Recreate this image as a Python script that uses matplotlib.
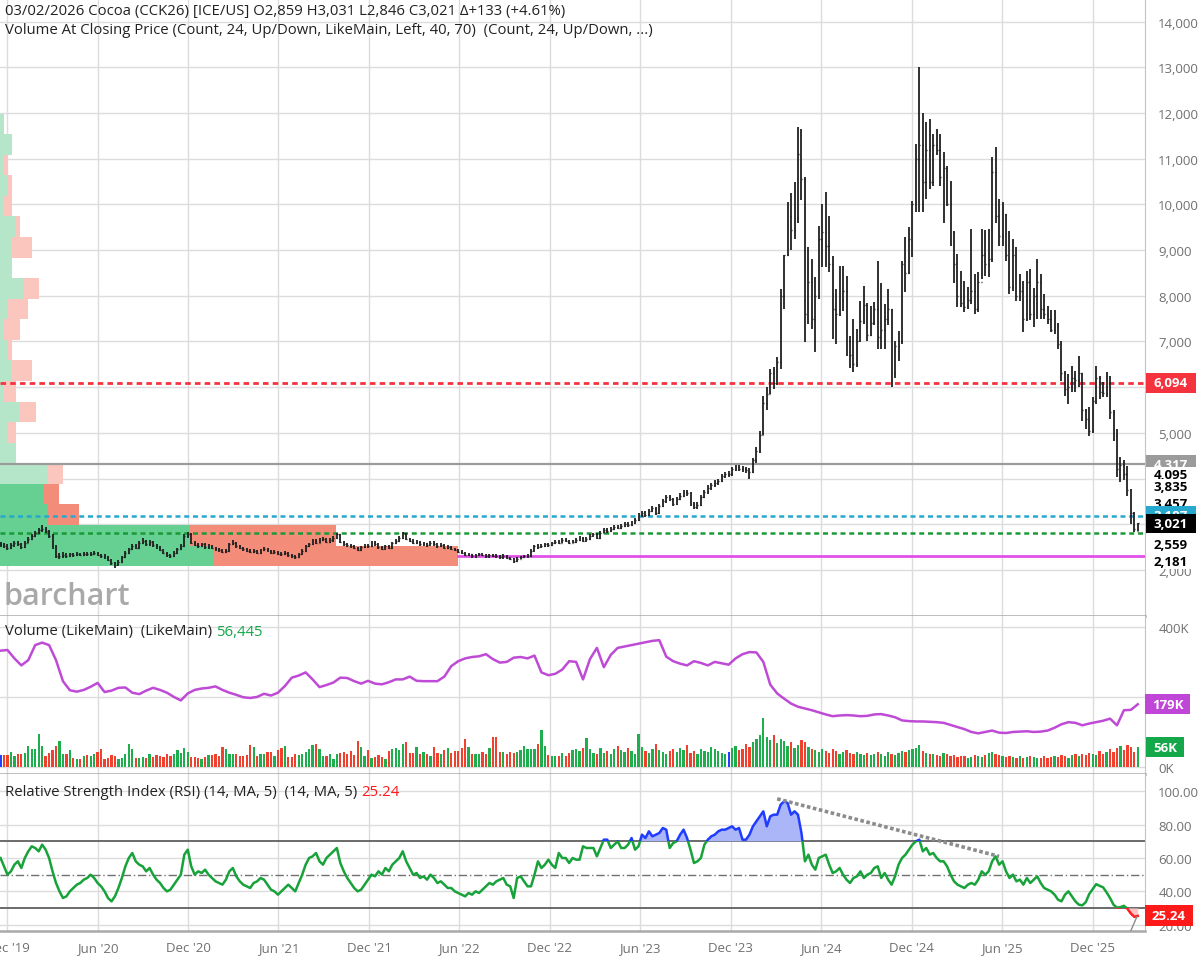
import numpy as np
import pandas as pd
import matplotlib
matplotlib.use("Agg")
import matplotlib.pyplot as plt
import matplotlib.dates as mdates
from matplotlib.patches import Rectangle
from matplotlib.transforms import blended_transform_factory, IdentityTransform

plt.rcParams['font.family'] = ['Open Sans', 'DejaVu Sans']

# ---------------- data (weekly, 2019-11-18 .. 2026-03-02) ----------------
START = '2019-11-18'
CLOSE = [
 2560, 2520, 2480, 2540, 2600, 2560, 2500, 2600, 2680, 2750,
 2800, 2870, 2900, 2850, 2750, 2500, 2300, 2310, 2330, 2310,
 2340, 2320, 2350, 2330, 2360, 2340, 2350, 2380, 2330, 2300,
 2290, 2220, 2150, 2100, 2180, 2280, 2380, 2450, 2520, 2480,
 2600, 2640, 2560, 2620, 2540, 2500, 2440, 2380, 2320, 2300,
 2380, 2450, 2520, 2750, 2780, 2600, 2550, 2520, 2560, 2500,
 2530, 2480, 2450, 2430, 2400, 2420, 2560, 2600, 2520, 2480,
 2450, 2420, 2400, 2420, 2380, 2440, 2460, 2420, 2380, 2400,
 2360, 2340, 2380, 2320, 2300, 2280, 2340, 2420, 2520, 2560,
 2640, 2600, 2660, 2680, 2620, 2650, 2700, 2780, 2620, 2560,
 2540, 2520, 2480, 2440, 2500, 2540, 2520, 2600, 2560, 2500,
 2460, 2520, 2480, 2580, 2640, 2700, 2800, 2680, 2640, 2600,
 2620, 2560, 2580, 2540, 2600, 2560, 2520, 2540, 2480, 2500,
 2460, 2440, 2400, 2380, 2330, 2340, 2300, 2320, 2340, 2330,
 2300, 2320, 2310, 2300, 2280, 2300, 2260, 2250, 2200, 2250,
 2280, 2300, 2310, 2420, 2520, 2500, 2530, 2560, 2540, 2580,
 2620, 2600, 2660, 2640, 2600, 2620, 2650, 2700, 2640, 2680,
 2740, 2780, 2700, 2820, 2880, 2850, 2900, 2950, 2920, 2960,
 3000, 2980, 3020, 3100, 3200, 3250, 3200, 3300, 3350, 3250,
 3400, 3500, 3600, 3550, 3450, 3560, 3620, 3700, 3680, 3450,
 3380, 3420, 3600, 3700, 3800, 3850, 3900, 3950, 4050, 4100,
 4100, 4200, 4250, 4220, 4200, 4180, 4150, 4400, 4600, 4950,
 5650, 5850, 6300, 6100, 6550, 8000, 8900, 9750, 9450, 9700,
 11100, 10550, 7600, 8300, 7500, 8000, 9250, 9400, 9100, 8700,
 7700, 7600, 7900, 8100, 7000, 6700, 6500, 7000, 7450, 7800,
 7150, 7400, 7700, 7100, 7250, 7500, 7700, 6300, 6900, 7000,
 8700, 8500, 9250, 10000, 11000, 11300, 10500, 11200, 10500, 11300,
 11200, 10600, 10800, 10000, 9400, 8700, 8000, 7850, 7750, 7900,
 8100, 7700, 8300, 8900, 8700, 8800, 10700, 9750, 9300, 9800,
 8900, 8200, 8900, 8000, 8100, 7500, 8300, 7600, 8000, 8300,
 7700, 7600, 7500, 7250, 7350, 6950, 6300, 5950, 6000, 6200,
 6150, 6300, 5500, 5300, 5050, 5700, 6200, 5900, 5880, 6100,
 5450, 4950, 4200, 4300, 4100, 3750, 3250, 2888, 3021]
HIGH = [
 2620, 2600, 2560, 2580, 2640, 2630, 2590, 2630, 2720, 2790,
 2850, 2920, 2990, 2950, 2880, 2780, 2540, 2380, 2390, 2370,
 2380, 2370, 2390, 2380, 2400, 2390, 2390, 2420, 2400, 2360,
 2340, 2310, 2240, 2170, 2210, 2310, 2410, 2490, 2560, 2570,
 2630, 2690, 2660, 2650, 2640, 2570, 2530, 2460, 2400, 2350,
 2410, 2480, 2560, 2790, 2830, 2800, 2630, 2590, 2600, 2580,
 2570, 2550, 2510, 2480, 2460, 2460, 2590, 2650, 2620, 2550,
 2510, 2480, 2450, 2460, 2440, 2470, 2500, 2490, 2440, 2440,
 2420, 2390, 2410, 2400, 2350, 2330, 2370, 2450, 2550, 2600,
 2680, 2670, 2700, 2720, 2700, 2690, 2740, 2820, 2790, 2640,
 2590, 2570, 2550, 2500, 2530, 2570, 2570, 2630, 2630, 2580,
 2520, 2550, 2540, 2610, 2680, 2740, 2840, 2810, 2710, 2670,
 2660, 2640, 2620, 2600, 2630, 2630, 2580, 2580, 2560, 2540,
 2520, 2490, 2460, 2430, 2400, 2380, 2360, 2350, 2380, 2370,
 2350, 2350, 2350, 2340, 2330, 2340, 2320, 2290, 2270, 2280,
 2310, 2330, 2340, 2450, 2550, 2560, 2570, 2600, 2590, 2620,
 2660, 2650, 2690, 2690, 2660, 2660, 2690, 2740, 2720, 2720,
 2780, 2820, 2800, 2850, 2920, 2920, 2940, 2990, 2990, 3000,
 3050, 3050, 3070, 3140, 3240, 3300, 3290, 3340, 3400, 3380,
 3440, 3550, 3650, 3640, 3580, 3600, 3680, 3760, 3750, 3700,
 3490, 3480, 3640, 3750, 3850, 3900, 3960, 4000, 4100, 4150,
 4160, 4250, 4300, 4290, 4270, 4260, 4230, 4450, 4700, 5050,
 5800, 6000, 6400, 6450, 6650, 8150, 8900, 10050, 10250, 10500,
 11700, 11650, 10600, 9070, 8800, 8400, 9530, 10010, 10260, 9750,
 8880, 8150, 8660, 8660, 8440, 7130, 7490, 7270, 7890, 8220,
 7850, 7780, 7860, 8770, 8290, 7820, 8150, 7710, 7020, 7240,
 8770, 9280, 9500, 10080, 11320, 13000, 12010, 11800, 11870, 11540,
 11660, 11540, 11140, 10850, 10520, 9420, 8910, 8550, 8330, 8190,
 9460, 8480, 8510, 9460, 9430, 9460, 11030, 11250, 10120, 10050,
 9800, 9420, 9240, 9060, 8480, 8330, 8550, 8590, 8180, 8810,
 8480, 8040, 7780, 7680, 7680, 7400, 7020, 6360, 6290, 6470,
 6360, 6690, 6300, 5520, 5560, 5780, 6470, 6250, 6110, 6330,
 6250, 5490, 5085, 4465, 4400, 4283, 3780, 3262, 3031]
LOW = [
 2500, 2480, 2440, 2450, 2510, 2530, 2470, 2480, 2580, 2650,
 2720, 2780, 2840, 2800, 2700, 2450, 2260, 2250, 2270, 2270,
 2280, 2290, 2300, 2300, 2310, 2310, 2300, 2330, 2300, 2260,
 2250, 2190, 2110, 2050, 2080, 2160, 2260, 2360, 2430, 2450,
 2460, 2570, 2530, 2530, 2510, 2470, 2410, 2350, 2290, 2260,
 2280, 2360, 2430, 2500, 2700, 2570, 2520, 2490, 2500, 2470,
 2470, 2450, 2420, 2400, 2370, 2380, 2400, 2540, 2490, 2450,
 2420, 2390, 2370, 2380, 2350, 2360, 2410, 2390, 2350, 2360,
 2330, 2310, 2320, 2290, 2270, 2240, 2260, 2320, 2400, 2500,
 2540, 2570, 2580, 2630, 2590, 2590, 2620, 2680, 2590, 2530,
 2510, 2490, 2450, 2410, 2420, 2480, 2490, 2500, 2530, 2470,
 2430, 2440, 2450, 2460, 2560, 2620, 2680, 2650, 2610, 2570,
 2570, 2530, 2530, 2510, 2520, 2530, 2490, 2500, 2450, 2460,
 2430, 2410, 2370, 2350, 2300, 2300, 2270, 2270, 2300, 2300,
 2270, 2270, 2280, 2270, 2250, 2250, 2230, 2220, 2150, 2180,
 2230, 2260, 2260, 2290, 2400, 2470, 2480, 2510, 2510, 2520,
 2560, 2570, 2580, 2610, 2570, 2580, 2600, 2630, 2610, 2620,
 2660, 2720, 2670, 2680, 2800, 2820, 2830, 2880, 2890, 2900,
 2940, 2950, 2960, 3000, 3080, 3170, 3160, 3180, 3270, 3210,
 3230, 3380, 3470, 3500, 3410, 3430, 3530, 3590, 3620, 3400,
 3330, 3340, 3400, 3570, 3660, 3760, 3820, 3860, 3920, 4010,
 4040, 4060, 4160, 4170, 4150, 4130, 4000, 4120, 4350, 4550,
 4950, 5500, 5850, 5950, 6050, 6400, 7700, 8870, 9000, 9240,
 9600, 10100, 6990, 7380, 7270, 6760, 7930, 8620, 8620, 8510,
 7050, 6940, 7560, 7670, 6690, 6430, 6330, 6450, 6980, 7380,
 7020, 7130, 7360, 6840, 6840, 6840, 7350, 6000, 6210, 6580,
 6940, 8080, 8480, 8840, 9830, 9830, 9830, 10120, 10340, 10410,
 11070, 10410, 9600, 9970, 9100, 8290, 7750, 7750, 7640, 7700,
 7820, 7600, 7650, 8370, 8440, 8400, 8750, 9600, 9100, 9100,
 8770, 8040, 8110, 7890, 7890, 7200, 7450, 7460, 7310, 7490,
 7490, 7490, 7380, 7200, 7160, 6840, 6140, 5815, 5630, 5890,
 5890, 6000, 5270, 5085, 4940, 5000, 5630, 5740, 5780, 5780,
 5300, 4830, 4030, 3918, 3960, 3627, 3007, 2824, 2846]
LAST_OPEN = 2859

VOLUME_K = [
 35,
 33, 35, 43, 31, 36, 36, 41, 60, 50, 50,
 93, 60, 31, 41, 48, 60, 74, 36, 36, 48,
 27, 24, 24, 30, 33, 30, 36, 43, 50, 24,
 26, 34, 31, 24, 27, 38, 65, 50, 27, 27,
 29, 25, 36, 29, 33, 31, 29, 36, 30, 36,
 48, 41, 55, 43, 29, 29, 27, 22, 29, 33,
 33, 36, 31, 57, 52, 38, 36, 36, 31, 31,
 33, 62, 57, 31, 36, 36, 43, 43, 31, 48,
 55, 60, 29, 29, 36, 34, 36, 43, 50, 62,
 67, 50, 31, 31, 38, 24, 36, 41, 43, 36,
 46, 33, 74, 57, 31, 48, 27, 29, 33, 29,
 24, 46, 52, 55, 48, 65, 71, 41, 41, 57,
 38, 43, 36, 31, 57, 41, 36, 48, 55, 41,
 46, 46, 55, 81, 57, 38, 36, 38, 44, 36,
 55, 87, 87, 44, 44, 36, 44, 41, 44, 48,
 60, 50, 50, 50, 67, 105, 60, 33, 31, 31,
 31, 41, 31, 41, 48, 52, 46, 55, 82, 50,
 41, 38, 55,
 40, 45, 38, 52, 60, 48, 42, 55, 47, 38,
 94, 58, 45, 40, 52, 65, 48, 42, 38, 45,
 50, 42, 55, 48, 62, 40, 45, 38, 52, 47,
 44, 58, 50, 46, 40, 36, 42, 55, 60, 48,
 52, 66, 58, 72, 80, 90, 139, 85, 76, 92,
 68, 80, 74, 60, 72, 55, 64, 78, 70, 58,
 52, 48, 44, 50, 46, 40, 52, 45, 38, 42,
 48, 40, 36, 44, 38, 35, 40, 33, 37, 42,
 36, 31, 44, 38, 34, 40, 46, 42, 48, 52,
 55, 62, 45, 40, 36, 38, 34, 32, 40, 36,
 30, 34, 28, 32, 30, 26, 29, 33, 31, 28,
 35, 40, 44, 38, 33, 30, 28, 32, 29, 27,
 30, 26, 29, 31, 28, 25, 27, 30, 26, 29,
 32, 28, 35, 30, 27, 33, 36, 31, 38, 34,
 40, 36, 33, 45, 38, 42, 50, 44, 55, 60,
 48, 62, 58, 42, 56.445]

# open-interest style line in volume pane (every second week)
VOL_LINE_K = [
 332, 334, 310, 290, 305, 348, 355, 348, 305, 245,
 219, 215, 220, 229, 240, 214, 218, 226, 227, 212,
 208, 218, 226, 220, 212, 200, 190, 210, 220, 224,
 226, 230, 220, 212, 206, 199, 197, 200, 209, 204,
 212, 231, 255, 261, 270, 250, 228, 234, 241, 255,
 254, 245, 238, 246, 238, 236, 242, 250, 250, 258,
 246, 245, 245, 245, 258, 288, 302, 310, 314, 316,
 322, 308, 298, 300, 312, 314, 310, 318, 270, 262,
 266, 278, 302, 300, 250, 308, 340, 285, 320, 340,
 344, 348, 352, 356, 360, 362, 315, 302, 295, 290,
 302, 297, 290, 300, 296, 292, 310, 322, 328, 327,
 300, 235, 210, 195, 181, 172, 167, 162, 156, 150,
 145, 147, 148, 147, 145, 146, 150, 151, 147, 142,
 133, 131, 130, 130, 129, 128, 126, 120, 114, 108,
 100, 96, 100, 104, 98, 97, 100, 101, 102, 100,
 101, 104, 112, 122, 128, 126, 119, 124, 128, 132,
 138, 119, 162, 163, 179]

RSI = [
 60, 55, 50, 52, 56, 58, 54, 60, 64, 67,
 66, 64, 68, 65, 60, 52, 45, 40, 36, 37,
 40, 42, 44, 45, 47, 48, 50, 48, 45, 43,
 40, 36, 34, 37, 42, 48, 55, 60, 63, 58,
 56, 55, 52, 54, 50, 47, 45, 42, 40, 41,
 44, 47, 50, 62, 65, 55, 50, 52, 51, 53,
 50, 48, 46, 45, 44, 47, 52, 54, 49, 46,
 44, 43, 42, 45, 46, 48, 47, 44, 41, 40,
 38, 40, 42, 44, 42, 40, 45, 50, 56, 60,
 61, 63, 58, 56, 60, 62, 64, 66, 57, 52,
 48, 45, 42, 40, 41, 44, 47, 50, 49, 52,
 50, 54, 52, 56, 58, 60, 64, 58, 54, 50,
 51, 48, 49, 47, 50, 48, 45, 46, 44, 42,
 42, 40, 39, 38, 37, 39, 38, 40, 39, 41,
 43, 45, 44, 46, 47, 48, 44, 43, 36, 48,
 49, 46, 43, 43, 50, 58, 54, 56, 59, 56,
 54, 63, 60, 60, 57, 60, 59, 59, 67, 66,
 66, 66, 61, 66, 71, 71, 66, 68, 70, 66,
 66, 68, 72, 65, 67, 74, 72, 76, 73, 74,
 75, 78, 77, 66, 69, 70, 74, 77, 72, 65,
 57, 58, 60, 68, 71, 73, 74, 76, 77, 77,
 78, 79, 77, 78, 71, 71, 74, 79, 82, 85,
 88, 79, 85, 86, 86, 92, 94, 93, 86, 88,
 86, 75, 58, 62, 56, 53, 60, 61, 62, 56,
 51, 52, 54, 50, 47, 45, 48, 49, 52, 48,
 50, 51, 54, 55, 48, 51, 47, 44, 49, 56,
 60, 62, 65, 68, 70, 71, 64, 66, 62, 63,
 60, 58, 58, 55, 50, 46, 44, 43, 42, 44,
 45, 44, 47, 52, 50, 52, 58, 61, 56, 58,
 52, 48, 50, 46, 47, 44, 48, 45, 47, 49,
 45, 42, 41, 40, 38, 35, 34, 38, 40, 37,
 34, 32, 31.6, 33.5, 38.4, 41.4, 44.3, 43.3, 42.4, 39.4,
 36, 32, 30.2, 30.5, 31.3, 29.6, 26.7, 24.7, 25.24]

# volume-at-price profile: 24 rows, counts of up / down closes
PROFILE_LOW, PROFILE_HIGH, PROFILE_ROWS = 2085, 12885, 24
PROFILE_UP = [54, 48, 12, 11, 12, 4, 2, 5, 1, 3, 2, 1, 2, 6, 3, 3, 4, 1, 2, 1, 3, 1, 0, 0]
PROFILE_DN = [62, 37, 8, 4, 4, 0, 2, 4, 3, 5, 1, 4, 5, 4, 0, 5, 1, 2, 1, 1, 0, 0, 0, 0]
VALUE_AREA_ROWS = 4

LVL_RED, LVL_GRAY, LVL_CYAN, LVL_GREEN, LVL_MAG = 6094, 4317, 3187, 2811, 2307
RSI_TREND_WEEKS, RSI_TREND_VALS = [224, 288], [95.5, 61.0]

GRID_DATES = ['2019-12-01', '2020-06-01', '2020-12-01', '2021-06-01', '2021-12-01',
              '2022-06-01', '2022-12-01', '2023-06-01', '2023-12-01', '2024-06-01',
              '2024-12-01', '2025-06-01', '2025-12-01']
GRID_LABELS = ["Dec '19", "Jun '20", "Dec '20", "Jun '21", "Dec '21", "Jun '22", "Dec '22",
               "Jun '23", "Dec '23", "Jun '24", "Dec '24", "Jun '25", "Dec '25"]
PRICE_TICKS = list(range(2000, 15000, 1000))
PRICE_TICK_HIDDEN = [3000, 4000, 6000]   # covered by value tags in the original
VOL_TICKS = [0, 200000, 400000]
VOL_TICK_LABELS = ['0K', '', '400K']     # 200K is covered by the 179K tag
RSI_TICKS = [20, 40, 60, 80, 100]

assert len(CLOSE) == len(HIGH) == len(LOW) == len(VOLUME_K) == len(RSI) == 329
assert len(VOL_LINE_K) == 165

# ---------------- figure ----------------
W, H = 1200, 962
fig = plt.figure(figsize=(W / 100, H / 100), dpi=100)

def px_axes(x0, y0, x1, y1):
    return fig.add_axes([x0 / W, 1 - y1 / H, (x1 - x0) / W, (y1 - y0) / H])

ax_p = px_axes(0, 0, 1145, 617)
ax_v = px_axes(0, 617, 1145, 775)
ax_r = px_axes(0, 775, 1145, 932)

dates = pd.date_range(START, periods=len(CLOSE), freq='7D')
x = mdates.date2num(dates)
close = np.array(CLOSE, float)
high = np.array(HIGH, float)
low = np.array(LOW, float)
opn = np.concatenate([[close[0]], close[:-1]])
opn[-1] = LAST_OPEN
xlim = (mdates.date2num(pd.Timestamp('2019-11-16 22:00')),
        mdates.date2num(pd.Timestamp('2026-03-16 14:00')))
gx = mdates.date2num(pd.to_datetime(GRID_DATES))

GRID_C = '#dcdcdc'
LABEL_C = '#707070'
for ax in (ax_p, ax_v, ax_r):
    ax.set_xlim(*xlim)
    ax.set_xticks(gx)
    ax.grid(axis='x', color=GRID_C, lw=1, zorder=0)
    ax.grid(axis='y', color=GRID_C, lw=1, zorder=0)
    ax.tick_params(axis='x', length=0, labelbottom=False)
    ax.yaxis.tick_right()
    ax.tick_params(axis='y', length=0, pad=9.5, labelsize=9.5, labelcolor=LABEL_C)
    for s in ('left', 'top'):
        ax.spines[s].set_visible(False)
    ax.spines['right'].set_color('#c4c4c4')
    ax.spines['bottom'].set_color('#a9a9a9')
    ax.spines['bottom'].set_linewidth(1.8)
    ax.set_axisbelow(True)

ax_r.tick_params(axis='x', labelbottom=True, labelsize=9.5, labelcolor=LABEL_C, pad=7)
ax_r.set_xticklabels(GRID_LABELS)

# ---------------- price pane ----------------
ax_p.set_ylim(993, 14494)
ax_p.set_yticks(PRICE_TICKS)
ax_p.set_yticklabels(['' if v in PRICE_TICK_HIDDEN else f'{v:,}' for v in PRICE_TICKS])

bt = blended_transform_factory(ax_p.transAxes, ax_p.transData)
row_h = (PROFILE_HIGH - PROFILE_LOW) / PROFILE_ROWS
max_cnt = max(u + d for u, d in zip(PROFILE_UP, PROFILE_DN))
for i, (u, d) in enumerate(zip(PROFILE_UP, PROFILE_DN)):
    y0 = PROFILE_LOW + i * row_h
    strong = i < VALUE_AREA_ROWS
    gc = '#66cf92' if strong else '#b5e6ca'
    rc = '#f48c7a' if strong else '#fac6be'
    wu = u / max_cnt * 0.40
    wd = d / max_cnt * 0.40
    if u:
        ax_p.add_patch(Rectangle((0, y0), wu, row_h, transform=bt, fc=gc, ec='none', zorder=1))
    if d:
        ax_p.add_patch(Rectangle((wu, y0), wd, row_h, transform=bt, fc=rc, ec='none', zorder=1))

ax_p.axhline(LVL_RED, color='#f5333f', lw=2, ls=(0, (2, 1.5)), zorder=3)
ax_p.axhline(LVL_GRAY, color='#9b9b9b', lw=1.6, zorder=3)
ax_p.axhline(LVL_CYAN, color='#27a8cf', lw=1.8, ls=(0, (2, 1.5)), zorder=3)
ax_p.axhline(LVL_GREEN, color='#1a9a36', lw=1.8, ls=(0, (2, 1.5)), zorder=3)
poc_start = (PROFILE_UP[0] + PROFILE_DN[0]) / max_cnt * 0.40
ax_p.plot([poc_start, 1.0], [LVL_MAG, LVL_MAG], transform=bt, color='#e050e8', lw=2, zorder=3)

ax_p.vlines(x, low, high, color='#202020', lw=1.3, zorder=4)
ax_p.hlines(opn, x - 1.8, x, color='#202020', lw=1.0, zorder=4)
ax_p.hlines(close, x, x + 1.8, color='#202020', lw=1.0, zorder=4)

# ---------------- volume pane ----------------
vol = np.array(VOLUME_K) * 1000
cols = []
for i in range(len(close)):
    prev = opn[0] if i == 0 else close[i - 1]
    if close[i] > prev:
        cols.append('#1fae4e')
    elif close[i] < prev:
        cols.append('#f0402e')
    else:
        cols.append('#2440ff')
ax_v.bar(x, vol, width=4.6, color=cols, zorder=3)
ax_v.plot(x[::2], np.array(VOL_LINE_K) * 1000, color='#be4ad6', lw=1.8, zorder=4)
ax_v.set_ylim(-20000, 431000)
ax_v.set_yticks(VOL_TICKS)
ax_v.set_yticklabels(VOL_TICK_LABELS)

# ---------------- RSI pane ----------------
rsi = np.array(RSI, float)
ax_r.set_ylim(16.2, 110.4)
ax_r.set_yticks(RSI_TICKS)
ax_r.set_yticklabels([f'{v:.2f}' for v in RSI_TICKS])
ax_r.axhline(70, color='#6a6a6a', lw=1.4, zorder=2)
ax_r.axhline(30, color='#6a6a6a', lw=1.4, zorder=2)
ax_r.axhline(50, color='#707070', lw=1.0, ls=(0, (6, 2, 1, 2)), zorder=2)
ax_r.fill_between(x, rsi, 70, where=rsi >= 70, interpolate=True, color='#aab6f7', lw=0, zorder=3)
ax_r.fill_between(x, rsi, 30, where=rsi <= 30, interpolate=True, color='#ffc4c4', lw=0, zorder=3)
span = xlim[1] - xlim[0]
for lo, hi, c in ((30, 70, '#17a23a'), (70, 200, '#1f3cff'), (-100, 30, '#ff2020')):
    ln, = ax_r.plot(x, rsi, color=c, lw=1.8, zorder=4, solid_joinstyle='round')
    clip = Rectangle((xlim[0], lo), span, hi - lo, transform=ax_r.transData)
    ln.set_clip_path(clip)
ax_r.plot(x[RSI_TREND_WEEKS], RSI_TREND_VALS, color='#8c8c8c', lw=2.6, ls=(0, (1, 0.7)), zorder=5)
ax_r.plot([x[326], x[328] - 2], [16.4, 24.6], color='#8c8c8c', lw=1, zorder=5)

# ---------------- right-side tags ----------------
def tag(ax, val, text, fc, tc='white', x0=1146, x1=1196, h=19, z=10, weight='bold', size=9.5):
    yd = ax.transData.transform((xlim[0], val))[1]
    fig.add_artist(Rectangle((x0, yd - h / 2), x1 - x0, h, transform=IdentityTransform(),
                             fc=fc, ec='none', zorder=z))
    fig.text((x0 + x1) / 2, yd, text, transform=IdentityTransform(),
             ha='center', va='center', color=tc, fontsize=size, fontweight=weight, zorder=z + 0.5)

tag(ax_p, LVL_RED, '6,094', '#f5333f', h=20)
tag(ax_p, LVL_GRAY, '4,317', '#9b9b9b', z=10)
tag(ax_p, 4095, '4,095', 'white', tc='black', h=15, z=11)
tag(ax_p, 3835, '3,835', 'white', tc='black', h=15, z=12)
tag(ax_p, 3457, '3,457', 'white', tc='black', h=15, z=12)
tag(ax_p, LVL_CYAN, '3,187', '#27a8cf', z=13)
tag(ax_p, 3021, '3,021', '#000000', z=14)
tag(ax_p, 2559, '2,559', 'white', tc='black', h=15, z=13)
tag(ax_p, 2181, '2,181', 'white', tc='black', h=15, z=13)
tag(ax_v, 179000, '179K', '#c046d8', x0=1145, x1=1190, h=20)
tag(ax_v, 56445, '56K', '#14a84a', x0=1146, x1=1184, h=20)
tag(ax_r, 25.24, '25.24', '#ff1a1a', x0=1145, x1=1193, h=21)

# ---------------- texts ----------------
def ftext(xp, yp, s, **kw):
    return fig.text(xp / W, 1 - yp / H, s, va='center', **kw)

TFS = 10.7
ftext(5, 12, '03/02/2026 Cocoa (CCK26) [ICE/US] O2,859 H3,031 L2,846 C3,021 \u0394+133 (+4.61%)',
      fontsize=TFS, color='#222222', zorder=20)
ftext(5, 30, 'Volume At Closing Price (Count, 24, Up/Down, LikeMain, Left, 40, 70)  (Count, 24, Up/Down, ...)',
      fontsize=TFS, color='#222222', zorder=20)
ftext(3, 597, 'barchart', fontsize=22, color='#a9a9a9', fontweight='semibold', zorder=20)

renderer = fig.canvas.get_renderer()
t = ftext(5, 632, 'Volume (LikeMain)  (LikeMain) ', fontsize=TFS, color='#222222', zorder=20)
bb = t.get_window_extent(renderer)
fig.text(bb.x1 / W, 1 - 632 / H, '56,445', va='center', fontsize=TFS, color='#14a84a', zorder=20)
t = ftext(5, 792, 'Relative Strength Index (RSI) (14, MA, 5)  (14, MA, 5) ', fontsize=TFS, color='#222222', zorder=20)
bb = t.get_window_extent(renderer)
fig.text(bb.x1 / W, 1 - 792 / H, '25.24', va='center', fontsize=TFS, color='#ff1a1a', zorder=20)

fig.savefig('out.png', dpi=100)
